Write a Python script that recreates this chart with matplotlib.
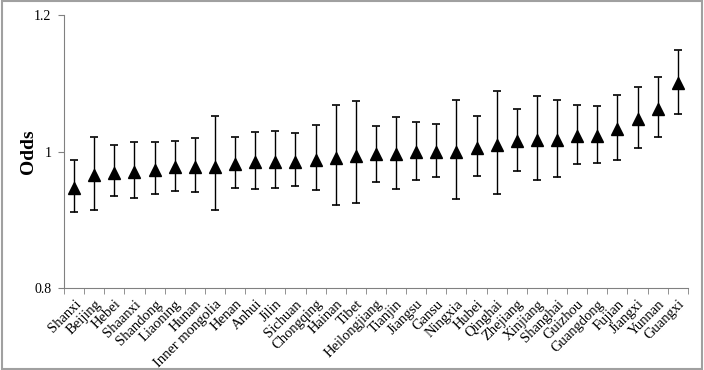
import matplotlib.pyplot as plt
from matplotlib.patches import Rectangle

provinces = ['Shanxi', 'Beijing', 'Hebei', 'Shaanxi', 'Shandong', 'Liaoning', 'Hunan',
             'Inner mongolia', 'Henan', 'Anhui', 'Jilin', 'Sichuan', 'Chongqing', 'Hainan',
             'Tibet', 'Heilongjiang', 'Tianjin', 'Jiangsu', 'Gansu', 'Ningxia', 'Hubei',
             'Qinghai', 'Zhejiang', 'Xinjiang', 'Shanghai', 'Guizhou', 'Guangdong', 'Fujian',
             'Jiangxi', 'Yunnan', 'Guangxi']
odds = [0.947, 0.965, 0.969, 0.970, 0.973, 0.977, 0.977, 0.978, 0.981, 0.985, 0.985,
        0.985, 0.988, 0.990, 0.993, 0.996, 0.996, 0.999, 0.999, 1.000, 1.005, 1.009,
        1.015, 1.017, 1.017, 1.023, 1.023, 1.033, 1.048, 1.062, 1.101]
upper = [0.988, 1.022, 1.010, 1.014, 1.014, 1.016, 1.020, 1.052, 1.022, 1.029, 1.030,
         1.027, 1.039, 1.068, 1.074, 1.038, 1.050, 1.044, 1.041, 1.076, 1.052, 1.089,
         1.063, 1.082, 1.076, 1.068, 1.067, 1.083, 1.095, 1.109, 1.149]
lower = [0.912, 0.914, 0.935, 0.932, 0.937, 0.942, 0.940, 0.914, 0.946, 0.945, 0.946,
         0.949, 0.944, 0.922, 0.924, 0.956, 0.945, 0.958, 0.962, 0.931, 0.964, 0.938,
         0.971, 0.958, 0.963, 0.982, 0.983, 0.988, 1.005, 1.021, 1.055]

plt.rcParams['font.family'] = ['Liberation Serif', 'DejaVu Serif']

fig = plt.figure(figsize=(7.04, 3.70), dpi=100)
fig.patches.append(Rectangle((0.003, 0.004), 0.994, 0.992, transform=fig.transFigure,
                             fill=False, edgecolor='#a0a0a0', linewidth=1.5))
ax = fig.add_axes([0.091, 0.222, 0.886, 0.737])

x = list(range(len(provinces)))
yerr = [[o - l for o, l in zip(odds, lower)], [u - o for o, u in zip(odds, upper)]]
ax.errorbar(x, odds, yerr=yerr, fmt='^', color='black', markersize=8.5,
            elinewidth=1, capsize=3, capthick=1.2, ecolor='black')

ax.set_xlim(-0.5, len(provinces) - 0.5)
ax.set_ylim(0.8, 1.2)
ax.set_yticks([0.8, 1.0, 1.2])
ax.set_yticklabels(['0.8', '1', '1.2'], fontsize=10)
fig.text(28 / 704, 1 - 152 / 370, 'Odds', rotation=90, ha='center', va='center',
         fontsize=14, fontweight='bold')

ax.set_xticks(x)
ax.set_xticklabels(provinces, rotation=45, ha='right', rotation_mode='anchor', fontsize=10.5)
ax.tick_params(axis='x', which='major', length=0, pad=7)
ax.set_xticks([i - 0.5 for i in range(len(provinces) + 1)], minor=True)
ax.tick_params(axis='x', which='minor', length=4, color='#808080')
ax.tick_params(axis='y', length=4, color='#808080', pad=5)

for s in ['top', 'right']:
    ax.spines[s].set_visible(False)
for s in ['left', 'bottom']:
    ax.spines[s].set_color('#808080')
    ax.spines[s].set_linewidth(0.8)

fig.savefig('out.png', dpi=100)
